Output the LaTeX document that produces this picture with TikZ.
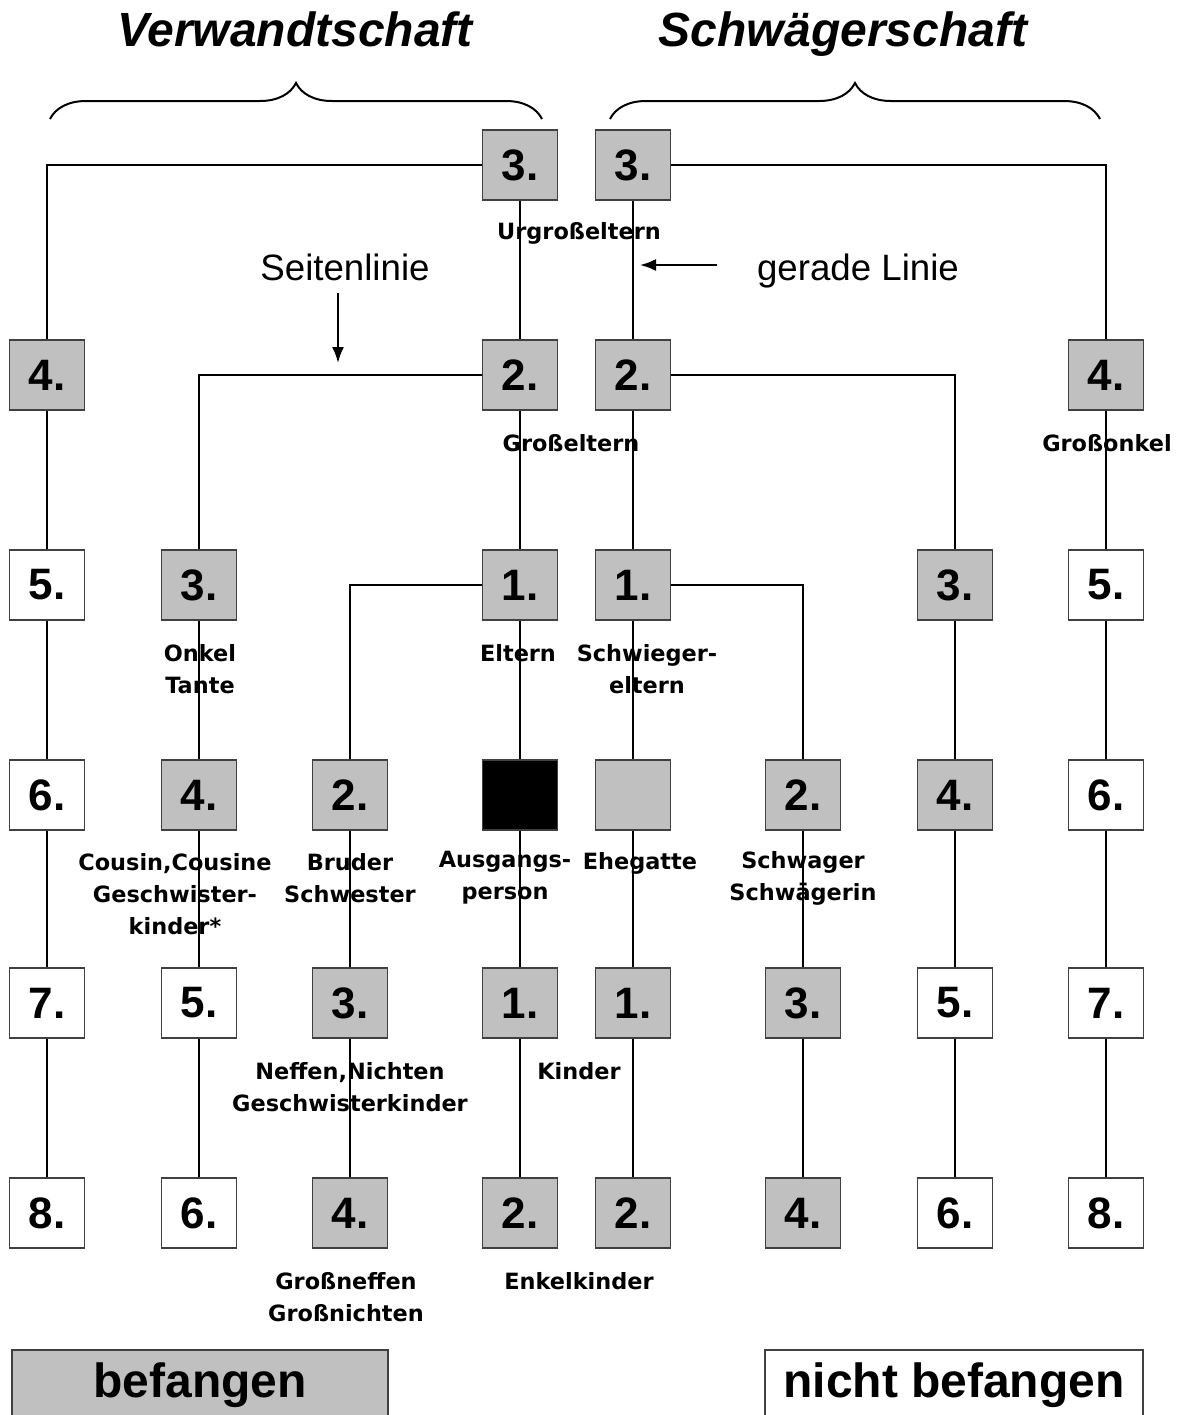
\documentclass[tikz,border=0pt]{standalone}
\usepackage{fontspec}
\usepackage{tikz}
\usetikzlibrary{arrows.meta}
\usetikzlibrary{decorations.pathreplacing}
\setmainfont{Liberation Sans}
\newfontfamily\labfamily{DejaVu Sans}
\definecolor{befgray}{RGB}{192,192,192}
\definecolor{rimgray}{RGB}{64,64,64}

\begin{document}
\begin{tikzpicture}[x=0.75pt,y=-0.75pt,
  grad/.style={draw=rimgray,line width=1pt,minimum width=56pt,minimum height=52.5pt,inner sep=0pt,
    font=\fontsize{33}{33}\selectfont\bfseries},
  bef/.style={grad,fill=befgray},
  nbef/.style={grad,fill=white},
  lab/.style={font=\labfamily\fontsize{16.8}{24}\selectfont\bfseries,align=center,inner sep=0pt},
  head/.style={font=\fontsize{36}{36}\selectfont\bfseries\itshape,inner sep=0pt,anchor=base},
  hint/.style={font=\fontsize{27.5}{27.5}\selectfont,inner sep=0pt,anchor=base},
  link/.style={line width=1.5pt},
  pointer/.style={line width=1.5pt,-{Latex[length=12pt,width=9pt]}},
  legend/.style={minimum width=282pt,minimum height=52.5pt,font=\fontsize{36}{36}\selectfont\bfseries}]
  \useasboundingbox (0,0) rectangle (1178,1415);

  % headings and braces
  \node[head] (verw) at (295,46) {Verwandtschaft};
  \node[head] (schw) at (843,46) {Schwägerschaft};
  \draw[link,decorate,decoration={brace,amplitude=27pt}] (50,119) -- (542,119);
  \draw[link,decorate,decoration={brace,amplitude=27pt}] (610,119) -- (1100,119);

  % degree boxes, columns a..h, rows 1..6
  \node[bef] (d1) at (520,165) {3.};
  \node[bef] (e1) at (633,165) {3.};

  \node[bef] (a2) at (47,375) {4.};
  \node[bef] (d2) at (520,375) {2.};
  \node[bef] (e2) at (633,375) {2.};
  \node[bef] (h2) at (1106,375) {4.};

  \node[nbef] (a3) at (47,585) {5.};
  \node[bef] (b3) at (199,585) {3.};
  \node[bef] (d3) at (520,585) {1.};
  \node[bef] (e3) at (633,585) {1.};
  \node[bef] (g3) at (955,585) {3.};
  \node[nbef] (h3) at (1106,585) {5.};

  \node[nbef] (a4) at (47,795) {6.};
  \node[bef] (b4) at (199,795) {4.};
  \node[bef] (c4) at (350,795) {2.};
  \node[grad,fill=black] (d4) at (520,795) {};
  \node[bef] (e4) at (633,795) {};
  \node[bef] (f4) at (803,795) {2.};
  \node[bef] (g4) at (955,795) {4.};
  \node[nbef] (h4) at (1106,795) {6.};

  \node[nbef] (a5) at (47,1003) {7.};
  \node[nbef] (b5) at (199,1003) {5.};
  \node[bef] (c5) at (350,1003) {3.};
  \node[bef] (d5) at (520,1003) {1.};
  \node[bef] (e5) at (633,1003) {1.};
  \node[bef] (f5) at (803,1003) {3.};
  \node[nbef] (g5) at (955,1003) {5.};
  \node[nbef] (h5) at (1106,1003) {7.};

  \node[nbef] (a6) at (47,1213) {8.};
  \node[nbef] (b6) at (199,1213) {6.};
  \node[bef] (c6) at (350,1213) {4.};
  \node[bef] (d6) at (520,1213) {2.};
  \node[bef] (e6) at (633,1213) {2.};
  \node[bef] (f6) at (803,1213) {4.};
  \node[nbef] (g6) at (955,1213) {6.};
  \node[nbef] (h6) at (1106,1213) {8.};

  % Verwandtschaft
  \draw[link] (d1) -| (a2);
  \draw[link] (a2) -- (a3) -- (a4) -- (a5) -- (a6);
  \draw[link] (d1) -- (d2);
  \draw[link] (d2) -| (b3);
  \draw[link] (b3) -- (b4) -- (b5) -- (b6);
  \draw[link] (d2) -- (d3);
  \draw[link] (d3) -| (c4);
  \draw[link] (c4) -- (c5) -- (c6);
  \draw[link] (d3) -- (d4) -- (d5) -- (d6);

  % Schwaegerschaft
  \draw[link] (e1) -| (h2);
  \draw[link] (h2) -- (h3) -- (h4) -- (h5) -- (h6);
  \draw[link] (e1) -- (e2);
  \draw[link] (e2) -| (g3);
  \draw[link] (g3) -- (g4) -- (g5) -- (g6);
  \draw[link] (e2) -- (e3);
  \draw[link] (e3) -| (f4);
  \draw[link] (f4) -- (f5) -- (f6);
  \draw[link] (e3) -- (e4) -- (e5) -- (e6);

  % labels
  \node[lab] (urg) at (579,233) {Urgroßeltern};
  \node[lab] (gross) at (571,443) {Großeltern};
  \node[lab] (gronkel) at (1107,443) {Großonkel};
  \node[lab] (onkel) at (200,669) {Onkel\\Tante};
  \node[lab] (eltern) at (518,653) {Eltern};
  \node[lab] (schwel) at (647,669) {Schwieger-\\eltern};
  \node[lab] (cousin) at (175,894) {Cousin,Cousine\\Geschwister-\\kinder*};
  \node[lab] (bruder) at (350,878) {Bruder\\Schwester};
  \node[lab] (ausg) at (505,878) {Ausgangs-\\person};
  \node[lab] (ehe) at (640,863) {Ehegatte};
  \node[lab] (schwa) at (803,878) {Schwager\\Schwägerin};
  \node[lab] (neffen) at (350,1087) {Neffen,Nichten\\Geschwisterkinder};
  \node[lab] (kinder) at (579,1071) {Kinder};
  \node[lab] (grneff) at (346,1297) {Großneffen\\Großnichten};
  \node[lab] (enkel) at (579,1281) {Enkelkinder};

  % hints
  \node[hint] (seite) at (345,280) {Seitenlinie};
  \node[hint] (gerade) at (858,280) {gerade Linie};
  \coordinate (seite-a) at (338,293);
  \coordinate (seite-b) at (338,363);
  \coordinate (gerade-a) at (717,265);
  \coordinate (gerade-b) at (640,265);
  \draw[pointer] (seite-a) -- (seite-b);
  \draw[pointer] (gerade-a) -- (gerade-b);

  % legend
  \node[bef,legend] (legbef) at (200,1385) {befangen};
  \node[nbef,legend,minimum width=283.5pt] (legnbef) at (954,1385) {nicht befangen};
\end{tikzpicture}
\end{document}
